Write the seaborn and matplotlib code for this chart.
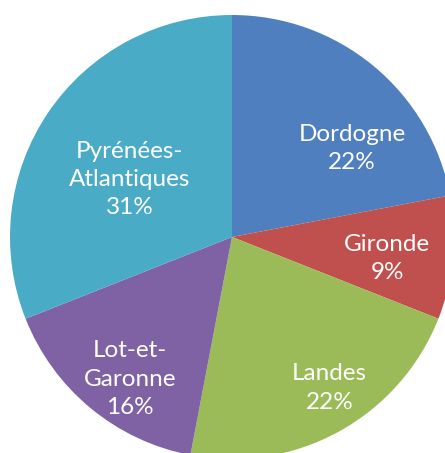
import matplotlib
matplotlib.use("Agg")
import matplotlib.pyplot as plt
import seaborn as sns

# Data
departements = ["Dordogne", "Gironde", "Landes", "Lot-et-\nGaronne", "Pyrénées-\nAtlantiques"]
parts = [22, 9, 22, 16, 31]
couleurs = ["#4F7FBE", "#C0504D", "#9BBB59", "#7F62A3", "#4AABC6"]

# label positions inside the pie (pie radius = 1)
label_pos = [(0.54, 0.40), (0.70, -0.095), (0.44, -0.68), (-0.46, -0.64), (-0.46, 0.26)]

sns.set_theme(style="white")
plt.rcParams["font.family"] = ["Lato", "DejaVu Sans"]

fig = plt.figure(figsize=(4.45, 4.53), dpi=100)
ax = fig.add_axes([10 / 445, (216 - 222) / 453, 444 / 445, 444 / 453])

wedges, _ = ax.pie(parts, colors=couleurs, startangle=90, counterclock=False,
                   radius=1, wedgeprops=dict(linewidth=0))

for name, p, (x, y) in zip(departements, parts, label_pos):
    ax.text(x, y, f"{name}\n{p}%", ha="center", va="center", color="white",
            fontsize=17.5, linespacing=1.42)

ax.set_xlim(-1, 1)
ax.set_ylim(-1, 1)
ax.set_aspect("equal")
ax.axis("off")

fig.savefig("out.png", dpi=100)
